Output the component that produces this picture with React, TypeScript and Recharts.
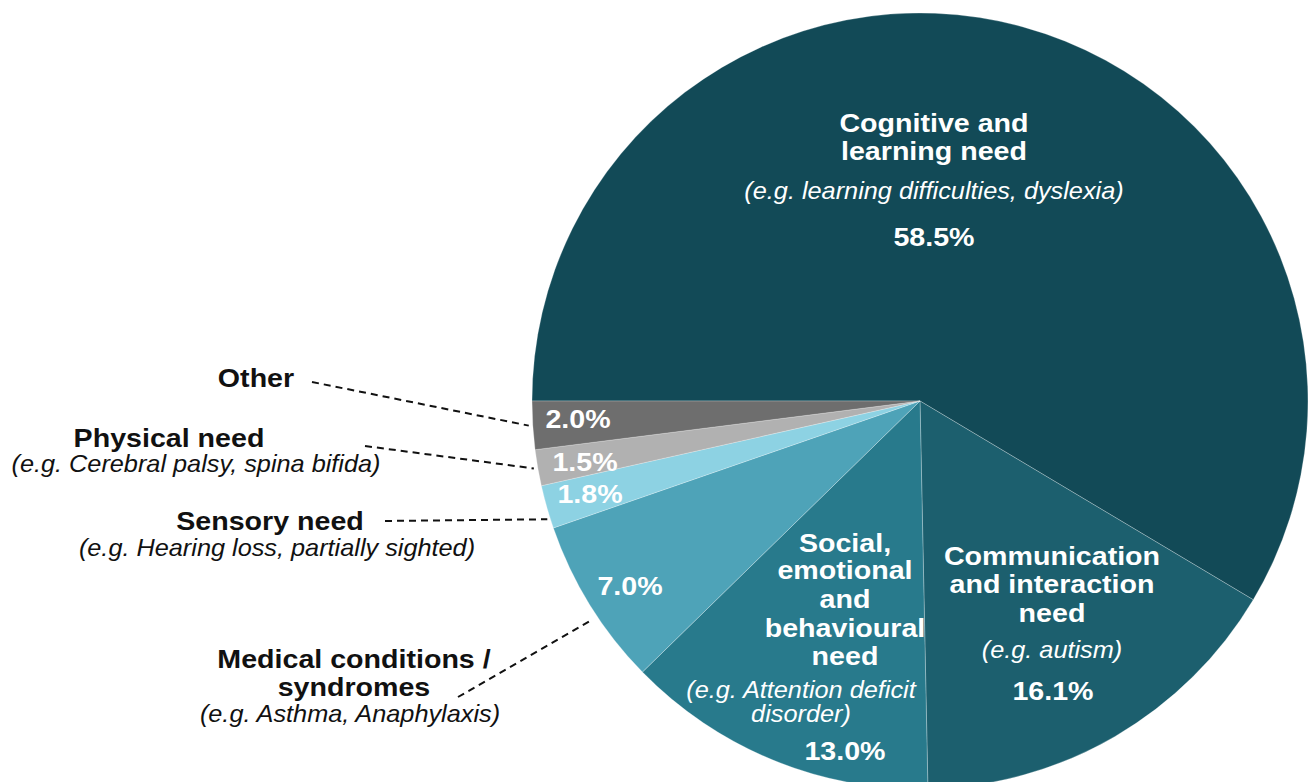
import React from "react";
import { PieChart, Pie, Cell } from "recharts";

// ---------- data ----------
const categoryLines: string[][] = [
  ["Cognitive and", "learning need"],
  ["Communication", "and interaction", "need"],
  ["Social,", "emotional", "and", "behavioural", "need"],
  ["Medical conditions /", "syndromes"],
  ["Sensory need"],
  ["Physical need"],
  ["Other"],
];
const exampleLines: string[][] = [
  ["(e.g. learning difficulties, dyslexia)"],
  ["(e.g. autism)"],
  ["(e.g. Attention deficit", "disorder)"],
  ["(e.g. Asthma, Anaphylaxis)"],
  ["(e.g. Hearing loss, partially sighted)"],
  ["(e.g. Cerebral palsy, spina bifida)"],
  [],
];
const shares: number[] = [58.5, 16.1, 13.0, 7.0, 1.8, 1.5, 2.0];
const sliceColors: string[] = [
  "#124a57",
  "#1c5f6e",
  "#287a8c",
  "#4ea3b8",
  "#8dd2e3",
  "#b1b1b1",
  "#6e6e6e",
];

const data = shares.map((v, i) => ({
  name: categoryLines[i].join(" "),
  value: v,
  index: i,
}));

// ---------- layout (annotation positions, relative to pie centre) ----------
const W = 1309;
const H = 782;
const CX = 920;
const CY = 401;
const R = 388;
const FONT = "'Liberation Sans', Arial, Helvetica, sans-serif";
const SX = 1.1;
const BOLD = 26;
const ITAL = 23;

type Pt = [number, number];
type Layout = {
  inside: boolean;
  title: { x: number; ys: number[] };
  example?: { x: number; ys: number[] };
  pct: Pt;
  leader?: { from: Pt; nudge: number; pad: number };
};

const layouts: Layout[] = [
  { inside: true, title: { x: 14, ys: [-269, -241] }, example: { x: 14, ys: [-202] }, pct: [14, -155] },
  { inside: true, title: { x: 132, ys: [164, 192, 221] }, example: { x: 132, ys: [257] }, pct: [133, 299] },
  { inside: true, title: { x: -75, ys: [151, 178, 207, 236, 264] }, example: { x: -119, ys: [297, 321] }, pct: [-75, 359] },
  { inside: false, title: { x: -566, ys: [267, 295] }, example: { x: -570, ys: [321] }, pct: [-290, 194], leader: { from: [-462, 296], nudge: 2, pad: 7 } },
  { inside: false, title: { x: -650, ys: [129] }, example: { x: -643, ys: [155] }, pct: [-330, 102], leader: { from: [-535, 120], nudge: 1.75, pad: 3 } },
  { inside: false, title: { x: -751, ys: [46] }, example: { x: -724, ys: [71] }, pct: [-335, 70], leader: { from: [-555, 45], nudge: 0, pad: 4 } },
  { inside: false, title: { x: -664, ys: [-14] }, pct: [-342, 27], leader: { from: [-608, -19], nudge: 0, pad: 4 } },
];

const RAD = Math.PI / 180;

function T({ x, y, size, bold, italic, fill, children }: any) {
  return (
    <text
      x={x}
      y={y}
      textAnchor="middle"
      fontFamily={FONT}
      fontSize={size}
      fontWeight={bold ? 700 : 400}
      fontStyle={italic ? "italic" : "normal"}
      fill={fill}
      transform={`translate(${x} 0) scale(${SX} 1) translate(${-x} 0)`}
    >
      {children}
    </text>
  );
}

function renderLabel(props: any) {
  const i: number = props.index;
  const cx: number = typeof props.cx === "number" ? props.cx : CX;
  const cy: number = typeof props.cy === "number" ? props.cy : CY;
  const outer: number = typeof props.outerRadius === "number" ? props.outerRadius : R;
  const mid: number = props.midAngle;
  const L = layouts[i];
  const textColor = L.inside ? "#ffffff" : "#111111";
  const pctText = `${shares[i].toFixed(1)}%`;
  const els: any[] = [];

  categoryLines[i].forEach((line, k) => {
    els.push(
      <T key={`t${k}`} x={cx + L.title.x} y={cy + L.title.ys[k]} size={BOLD} bold fill={textColor}>
        {line}
      </T>
    );
  });
  if (L.example) {
    exampleLines[i].forEach((line, k) => {
      els.push(
        <T key={`e${k}`} x={cx + L.example!.x} y={cy + L.example!.ys[k]} size={ITAL} italic fill={textColor}>
          {line}
        </T>
      );
    });
  }
  els.push(
    <T key="p" x={cx + L.pct[0]} y={cy + L.pct[1]} size={BOLD} bold fill="#ffffff">
      {pctText}
    </T>
  );
  if (L.leader) {
    const a = (mid + L.leader.nudge) * RAD;
    const r = outer + L.leader.pad;
    const x2 = cx + r * Math.cos(-a);
    const y2 = cy + r * Math.sin(-a);
    els.push(
      <line
        key="l"
        x1={cx + L.leader.from[0]}
        y1={cy + L.leader.from[1]}
        x2={x2}
        y2={y2}
        stroke="#111111"
        strokeWidth={2}
        strokeDasharray="7 5"
      />
    );
  }
  return <g key={`lbl${i}`}>{els}</g>;
}

export default function App() {
  return (
    <div
      style={{
        position: "absolute",
        left: 0,
        top: 0,
        width: W,
        height: H,
        overflow: "hidden",
        background: "#ffffff",
      }}
    >
      <PieChart width={W} height={H} margin={{ top: 0, right: 0, bottom: 0, left: 0 }}>
        <Pie
          data={data}
          dataKey="value"
          nameKey="name"
          cx={CX}
          cy={CY}
          innerRadius={0}
          outerRadius={R}
          startAngle={180}
          endAngle={-180}
          isAnimationActive={false}
          labelLine={false}
          label={renderLabel}
          stroke="rgba(255,255,255,0.25)"
          strokeWidth={1}
        >
          {data.map((d, i) => (
            <Cell key={d.name} fill={sliceColors[i]} />
          ))}
        </Pie>
      </PieChart>
    </div>
  );
}
